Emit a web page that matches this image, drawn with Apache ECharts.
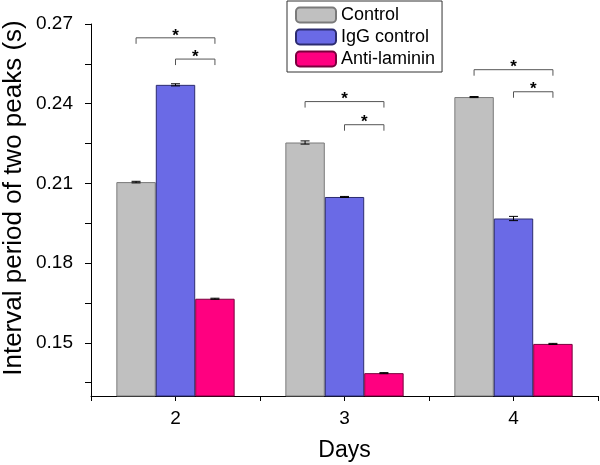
<!DOCTYPE html>
<html><head><meta charset="utf-8">
<script src="https://cdn.jsdelivr.net/npm/echarts@6/dist/echarts.min.js"></script>
<style>html,body{margin:0;padding:0;background:#fff}#c{width:600px;height:465px}</style>
</head><body><div id="c"></div>
<script>
const days = ['2', '3', '4'];
const seriesNames = ['Control', 'IgG control', 'Anti-laminin'];
const controlVals = [0.2105, 0.2254, 0.2425];
const iggVals = [0.2471, 0.2049, 0.1968];
const antiVals = [0.1666, 0.1386, 0.1496];
const controlErr = [0.0003, 0.0006, 0.0002];
const iggErr = [0.0004, 0.0002, 0.0008];
const antiErr = [0.0002, 0.0002, 0.0002];
const yLabelValues = [0.15, 0.18, 0.21, 0.24, 0.27];
const yTickValues = [0.135, 0.15, 0.165, 0.18, 0.195, 0.21, 0.225, 0.24, 0.255, 0.27];
// significance brackets: [dayIndex, fromBar, toBar, level]
const brackets = [[0, 0, 2, 0.2648], [0, 1, 2, 0.2568], [1, 0, 2, 0.2408], [1, 1, 2, 0.2321], [2, 0, 2, 0.2528], [2, 1, 2, 0.2445]];

const FONT = 'Liberation Sans, Arial, sans-serif';
const fills = ['#c0c0c0', '#6a6ae6', '#ff0080'];
const borders = ['#7a7a7a', '#2c2c70', '#7a003d'];
const GAP = 0.3;

const chart = echarts.init(document.getElementById('c'), null, {renderer: 'canvas'});

function barCenter(api, ci, idx) {
  const band = api.size([1, 0])[0];
  const barW = band * (1 - GAP) / 3;
  return api.coord([ci, 0.2])[0] + (idx - 1) * barW;
}

function errRenderer(idx) {
  return function (params, api) {
    const ci = api.value(0), v = api.value(1), e = api.value(2);
    const cx = barCenter(api, ci, idx);
    const yT = api.coord([ci, v + e])[1];
    const yB = api.coord([ci, v - e])[1];
    const cap = 4.5;
    const st = {stroke: '#000', lineWidth: 1};
    return {type: 'group', children: [
      {type: 'line', shape: {x1: cx, y1: yT, x2: cx, y2: yB}, style: st},
      {type: 'line', shape: {x1: cx - cap, y1: yT, x2: cx + cap, y2: yT}, style: st},
      {type: 'line', shape: {x1: cx - cap, y1: yB, x2: cx + cap, y2: yB}, style: st}
    ]};
  };
}

function bracketRenderer(params, api) {
  const ci = api.value(0), a = api.value(1), b = api.value(2), lv = api.value(3);
  const x1 = barCenter(api, ci, a), x2 = barCenter(api, ci, b);
  const y = api.coord([ci, lv])[1];
  const leg = 6;
  return {type: 'group', children: [
    {type: 'polyline', shape: {points: [[x1, y + leg], [x1, y], [x2, y], [x2, y + leg]]},
      style: {stroke: '#555', lineWidth: 1, fill: null}},
    {type: 'text', style: {text: '*', x: (x1 + x2) / 2, y: y - 2, fill: '#000',
      font: 'bold 17px ' + FONT, align: 'center', verticalAlign: 'middle'}}
  ]};
}

const valsList = [controlVals, iggVals, antiVals];
const errList = [controlErr, iggErr, antiErr];

const series = [];
seriesNames.forEach((n, i) => {
  series.push({
    name: n, type: 'bar', xAxisIndex: 0, data: valsList[i],
    barGap: '0%', barCategoryGap: (GAP * 100) + '%',
    itemStyle: {color: fills[i], borderColor: borders[i], borderWidth: 1},
    emphasis: {disabled: true}
  });
});
seriesNames.forEach((n, i) => {
  series.push({
    type: 'custom', xAxisIndex: 0, z: 5, silent: true,
    renderItem: errRenderer(i),
    data: days.map((d, k) => [k, valsList[i][k], errList[i][k]])
  });
});
series.push({type: 'custom', xAxisIndex: 0, z: 5, silent: true, renderItem: bracketRenderer, data: brackets});

chart.setOption({
  animation: false,
  textStyle: {fontFamily: FONT},
  grid: {left: 91, right: 2, top: 24, bottom: 69, containLabel: false, outerBoundsMode: 'none'},
  legend: {
    data: seriesNames, orient: 'vertical', left: 287, top: 1,
    itemWidth: 40, itemHeight: 15, itemGap: 4,
    padding: [5, 7, 4, 8],
    borderColor: '#333', borderWidth: 1, backgroundColor: '#fff',
    textStyle: {fontSize: 18, color: '#000', fontFamily: FONT},
    selectedMode: false
  },
  xAxis: [
    {type: 'category', data: days, position: 'bottom',
      axisLine: {lineStyle: {color: '#000', width: 1}},
      axisTick: {show: true, length: 5, lineStyle: {color: '#000'}},
      axisLabel: {fontSize: 19, color: '#000', margin: 13, fontFamily: FONT},
      name: 'Days', nameLocation: 'middle', nameGap: 43,
      nameTextStyle: {fontSize: 23, color: '#000', fontFamily: FONT}},
    {type: 'category', data: days, position: 'bottom',
      axisLine: {show: false},
      axisTick: {show: true, alignWithLabel: true, length: 5, lineStyle: {color: '#000'}},
      axisLabel: {show: false}}
  ],
  yAxis: {
    type: 'value', min: 0.13, max: 0.27,
    axisLine: {show: true, lineStyle: {color: '#000', width: 1}},
    axisTick: {show: true, length: 6, customValues: yTickValues, lineStyle: {color: '#000'}},
    axisLabel: {customValues: yLabelValues, formatter: v => Number(v).toFixed(2),
      fontSize: 19, color: '#000', margin: 18, fontFamily: FONT},
    splitLine: {show: false}
  },
  graphic: [{
    type: 'text', x: 14, y: 198, rotation: Math.PI / 2,
    style: {text: 'Interval period of two peaks (s)', font: '26px ' + FONT, fill: '#000',
      align: 'center', verticalAlign: 'middle'}
  }],
  series: series
});
</script></body></html>
